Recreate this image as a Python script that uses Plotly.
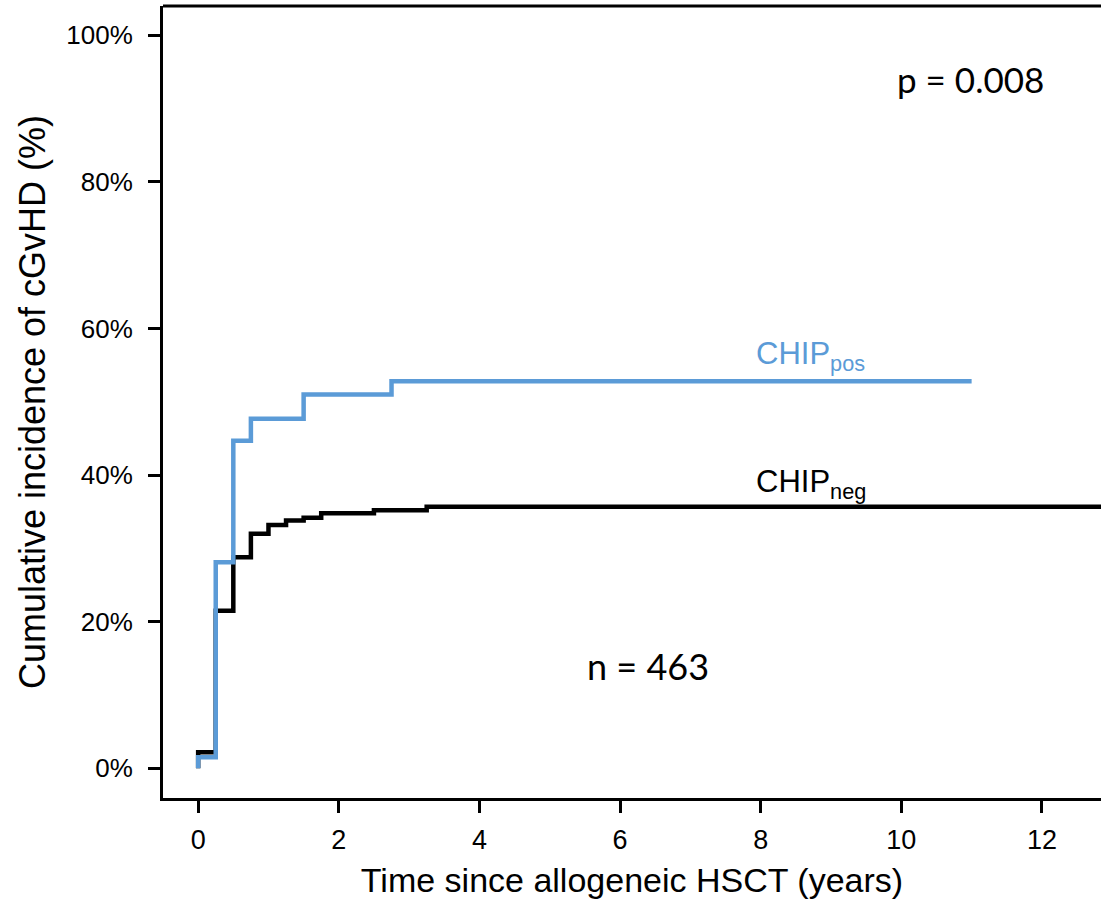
import plotly.graph_objects as go

# Data
neg_time = [0, 0, 0.25, 0.5, 0.75, 1.0, 1.25, 1.5, 1.75, 2.5, 3.25, 13.5]
neg_inc = [0, 2.2, 21.5, 28.8, 32.0, 33.2, 33.8, 34.2, 34.8, 35.2, 35.7, 35.7]

pos_time = [0, 0, 0.25, 0.5, 0.75, 1.5, 2.75, 11.0]
pos_inc = [0, 1.5, 28.1, 44.7, 47.7, 51.0, 52.8, 52.8]

x_ticks = [0, 2, 4, 6, 8, 10, 12]
y_ticks = [0, 20, 40, 60, 80, 100]
y_tick_text = [f"{v}%" for v in y_ticks]

BLUE = "#5b9bd7"
FONT = "Liberation Sans, Arial, sans-serif"

fig = go.Figure()
fig.add_trace(go.Scatter(x=neg_time, y=neg_inc, mode="lines", line_shape="hv",
                         line=dict(color="black", width=4.5), name="CHIPneg"))
fig.add_trace(go.Scatter(x=pos_time, y=pos_inc, mode="lines", line_shape="hv",
                         line=dict(color=BLUE, width=4.5), name="CHIPpos"))

fig.update_layout(
    width=1101, height=907,
    margin=dict(l=163, r=0, t=6, b=109),
    plot_bgcolor="white", paper_bgcolor="white",
    showlegend=False,
    font=dict(family=FONT, color="black"),
    xaxis=dict(range=[-0.5, 12.84], tickmode="array", tickvals=x_ticks, ticks="outside", ticklen=12,
               tickwidth=2.5, tickcolor="black", showline=True, linecolor="black",
               linewidth=3, showgrid=False, zeroline=False,
               tickfont=dict(size=27), ticklabelstandoff=4,
               title=dict(text="Time since allogeneic HSCT (years)", font=dict(size=34), standoff=14)),
    yaxis=dict(range=[-4.05, 104.0], tickmode="array", tickvals=y_ticks, ticktext=y_tick_text,
               ticks="outside", ticklen=12, tickwidth=2.5, tickcolor="black", showline=True,
               linecolor="black", linewidth=3, showgrid=False, zeroline=False,
               tickfont=dict(size=26), ticklabelstandoff=10,
               title=dict(text="Cumulative incidence of cGvHD (%)", font=dict(size=36), standoff=10)),
)

# top border of the box
fig.add_shape(type="line", xref="paper", yref="paper", x0=0, x1=1, y0=1, y1=1,
              line=dict(color="black", width=3))

fig.add_annotation(x=7.9, y=56.3, xref="x", yref="y", xanchor="left", yanchor="middle",
                   text="CHIP<sub>pos</sub>", showarrow=False,
                   font=dict(size=31, color=BLUE, family=FONT))
fig.add_annotation(x=7.9, y=38.8, xref="x", yref="y", xanchor="left", yanchor="middle",
                   text="CHIP<sub>neg</sub>", showarrow=False,
                   font=dict(size=31, color="black", family=FONT))
fig.add_annotation(x=10.98, y=94, xref="x", yref="y", xanchor="center", yanchor="middle",
                   text="p = 0.008", showarrow=False,
                   font=dict(size=35, color="black", family="Lato, sans-serif"))
fig.add_annotation(x=6.4, y=13.9, xref="x", yref="y", xanchor="center", yanchor="middle",
                   text="n = 463", showarrow=False,
                   font=dict(size=36, color="black", family="Lato, sans-serif"))

fig.write_html("out.html", config={"displayModeBar": False},
               post_script="document.body.style.margin='0px';")
